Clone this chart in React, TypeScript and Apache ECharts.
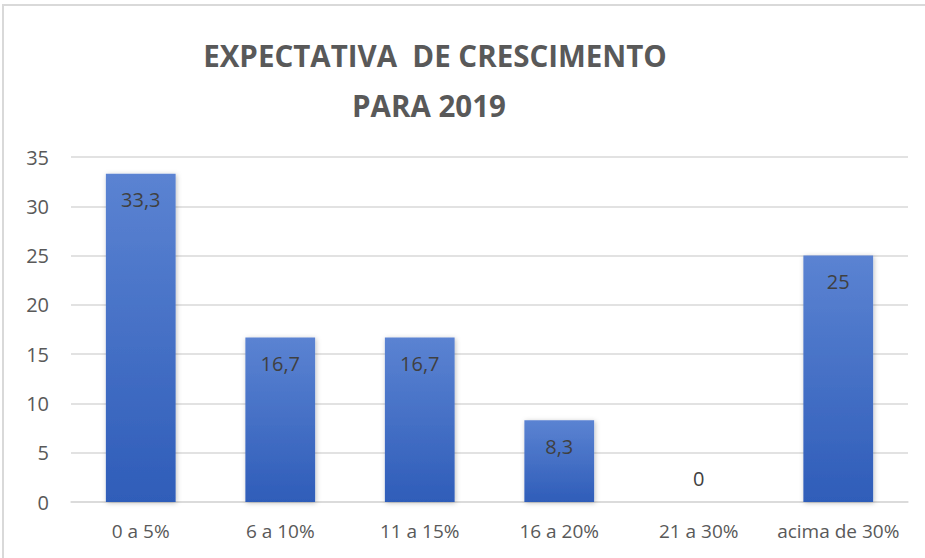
import React, { useEffect, useRef } from "react";
import * as echarts from "echarts";

const titleLines = ["EXPECTATIVA  DE CRESCIMENTO", "PARA 2019"];
const categories = ["0 a 5%", "6 a 10%", "11 a 15%", "16 a 20%", "21 a 30%", "acima de 30%"];
const values = [33.3, 16.7, 16.7, 8.3, 0, 25];
const yMin = 0;
const yMax = 35;
const yInterval = 5;

export default function App() {
  const ref = useRef<HTMLDivElement>(null);
  useEffect(() => {
    if (!ref.current) return;
    const chart = echarts.init(ref.current, null, { renderer: "svg" });
    const fmt = (v: number) => String(v).replace(".", ",");
    chart.setOption({
      animation: false,
      backgroundColor: "#ffffff",
      graphic: [
        {
          type: "rect",
          shape: { x: 3, y: 5, width: 940, height: 600 },
          style: { fill: "none", stroke: "#d9d9d9", lineWidth: 2 },
          z: -1,
        },
        {
          type: "text",
          x: 435,
          y: 55,
          style: {
            text: titleLines[0],
            fontFamily: "Open Sans",
            fontWeight: "bold",
            fontSize: 29.5,
            fill: "#595959",
            align: "center",
            verticalAlign: "middle",
          },
        },
        {
          type: "text",
          x: 429,
          y: 105,
          style: {
            text: titleLines[1],
            fontFamily: "Open Sans",
            fontWeight: "bold",
            fontSize: 29.5,
            fill: "#595959",
            align: "center",
            verticalAlign: "middle",
          },
        },
      ],
      grid: { left: 71, right: 17, top: 157, bottom: 56, containLabel: false },
      xAxis: {
        type: "category",
        data: categories,
        axisLine: { show: true, lineStyle: { color: "#d9d9d9", width: 1.5 } },
        axisTick: { show: false },
        axisLabel: {
          interval: 0,
          color: "#595959",
          fontFamily: "Open Sans",
          fontSize: 19,
          margin: 19,
        },
      },
      yAxis: {
        type: "value",
        min: yMin,
        max: yMax,
        interval: yInterval,
        axisLine: { show: false },
        axisTick: { show: false },
        splitLine: { lineStyle: { color: "#d9d9d9", width: 1.5 } },
        axisLabel: {
          color: "#595959",
          fontFamily: "Open Sans",
          fontSize: 20,
          margin: 22,
        },
      },
      series: [
        {
          type: "bar",
          data: values.map((v) =>
            v === 0 ? { value: v, label: { position: "top", distance: 14 } } : v
          ),
          barWidth: "50%",
          itemStyle: {
            color: new echarts.graphic.LinearGradient(0, 0, 0, 1, [
              { offset: 0, color: "#5b83d2" },
              { offset: 1, color: "#2f5db9" },
            ]),
            shadowBlur: 5,
            shadowColor: "rgba(0,0,0,0.25)",
            shadowOffsetX: 1,
            shadowOffsetY: 1,
          },
          label: {
            show: true,
            position: "insideTop",
            distance: 16,
            color: "#404040",
            fontFamily: "Open Sans",
            fontSize: 20,
            formatter: (p: any) => fmt(p.value),
          },
        },
      ],
    });
    return () => chart.dispose();
  }, []);
  return (
    <div
      ref={ref}
      style={{ position: "fixed", left: 0, top: 0, width: 925, height: 558 }}
    />
  );
}
